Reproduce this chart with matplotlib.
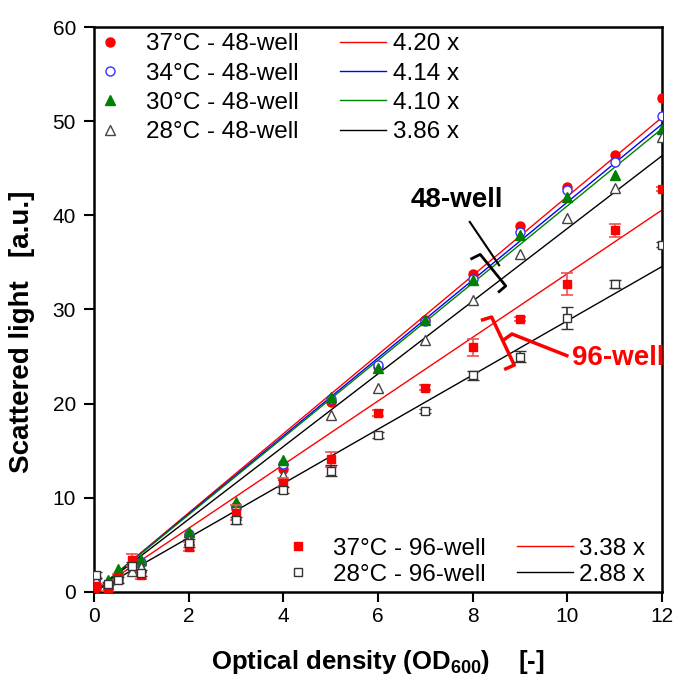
import numpy as np
import matplotlib.pyplot as plt

plt.rcParams["font.family"] = ["Liberation Sans", "DejaVu Sans"]
plt.rcParams["mathtext.fontset"] = "custom"
plt.rcParams["mathtext.bf"] = "Liberation Sans:bold"
plt.rcParams["mathtext.rm"] = "Liberation Sans"

# optical density (x) values
od = [0.05, 0.3, 0.5, 0.8, 1, 2, 3, 4, 5, 6, 7, 8, 9, 10, 11, 12]

# 48-well plate
w48_37 = [0.4, 0.6, 1.6, 2.9, 3.1, 6.0, 8.9, 13.1, 20.2, 23.9, 28.9, 33.8, 38.9, 43.0, 46.4, 52.5]
w48_34 = [1.5, 0.8, 1.8, 3.0, 3.2, 6.2, 9.1, 13.6, 20.5, 24.1, 28.8, 33.2, 38.2, 42.7, 45.7, 50.6]
w48_30 = [1.0, 1.3, 2.4, 3.2, 3.4, 6.4, 9.6, 14.0, 20.7, 23.8, 28.9, 33.1, 37.9, 41.9, 44.3, 49.2]
w48_28 = [1.3, 0.8, 1.5, 2.2, 2.7, 5.5, 8.2, 12.4, 18.8, 21.7, 26.8, 31.0, 35.9, 39.7, 42.9, 48.3]

# 96-well plate with standard deviations
w96_37 = [0.6, 0.4, 1.6, 3.4, 1.8, 4.8, 8.4, 11.6, 14.1, 19.0, 21.7, 26.0, 29.0, 32.7, 38.4, 42.8]
w96_37_err = [0.3, 0.3, 0.3, 0.6, 0.4, 0.5, 0.8, 0.5, 0.8, 0.3, 0.3, 0.9, 0.2, 1.2, 0.7, 0.2]
w96_28 = [1.8, 0.9, 1.3, 2.8, 2.0, 5.2, 7.6, 10.8, 12.9, 16.7, 19.2, 23.0, 25.0, 29.1, 32.7, 36.9]
w96_28_err = [0.3, 0.2, 0.3, 0.4, 0.3, 0.4, 0.4, 0.3, 0.6, 0.3, 0.2, 0.5, 0.6, 1.2, 0.4, 0.3]

# linear fits through origin
slopes_48 = [4.20, 4.14, 4.10, 3.86]
slopes_96 = [3.38, 2.88]
labels_48 = ["37°C - 48-well", "34°C - 48-well", "30°C - 48-well", "28°C - 48-well"]
labels_96 = ["37°C - 96-well", "28°C - 96-well"]

fig = plt.figure(figsize=(6.77, 6.82), dpi=100)
ax = fig.add_axes([0.1388, 0.132, 0.839, 0.8284])

xfit = np.array([0, 12])
colors_48 = ["red", "blue", "green", "black"]
fit48 = []
for s, c in zip(slopes_48, colors_48):
    ln, = ax.plot(xfit, s * xfit, color=c, lw=1.0, zorder=2)
    fit48.append(ln)
fit96 = []
for s, c in zip(slopes_96, ["red", "black"]):
    ln, = ax.plot(xfit, s * xfit, color=c, lw=1.0, zorder=2)
    fit96.append(ln)

# 48-well points
m1, = ax.plot(od, w48_37, "o", color="red", ms=6.5, ls="none", zorder=4)
m2, = ax.plot(od, w48_34, "o", mfc="white", mec="#3333ff", mew=1.0, ms=6.5, ls="none", zorder=4)
m3, = ax.plot(od, w48_30, "^", color="green", ms=7, ls="none", zorder=4)
m4, = ax.plot(od, w48_28, "^", mfc="white", mec="#444444", mew=1.0, ms=7, ls="none", zorder=4)

# 96-well points
e1 = ax.errorbar(od, w96_37, yerr=w96_37_err, fmt="s", color="red", ecolor="#f05050",
                 ms=6, capsize=4, elinewidth=1.2, capthick=1.2, zorder=4)
e2 = ax.errorbar(od, w96_28, yerr=w96_28_err, fmt="s", mfc="white", mec="#333333", mew=1.0,
                 ecolor="#333333", ms=6, capsize=4, elinewidth=1.2, capthick=1.2, zorder=4)

# legends
leg_kw = dict(frameon=False, fontsize=17.5, borderpad=0, borderaxespad=0)
leg1 = ax.legend([m1, m2, m3, m4], labels_48, loc="upper left", bbox_to_anchor=(0.0074, 0.989),
                 handlelength=1.0, handletextpad=0.95, labelspacing=0.3, **leg_kw)
ax.add_artist(leg1)
leg2 = ax.legend(fit48, [f"{s:.2f} x" for s in slopes_48], loc="upper left",
                 bbox_to_anchor=(0.433, 0.989), handlelength=1.9, handletextpad=0.3,
                 labelspacing=0.3, **leg_kw)
ax.add_artist(leg2)
leg3 = ax.legend([e1[0], e2[0]], labels_96, loc="lower left", bbox_to_anchor=(0.337, 0.011),
                 handlelength=1.0, handletextpad=0.95, labelspacing=0.17, **leg_kw)
ax.add_artist(leg3)
ax.legend(fit96, [f"{s:.2f} x" for s in slopes_96], loc="lower left",
          bbox_to_anchor=(0.745, 0.011), handlelength=2.3, handletextpad=0.25,
          labelspacing=0.17, **leg_kw)

# brackets with labels
ax.text(6.68, 41.6, "48-well", fontsize=20, fontweight="bold", va="center")
ax.plot([7.94, 8.56], [39.3, 34.7], color="black", lw=1.5)
ax.plot([7.98, 8.16, 8.70, 8.56], [35.4, 35.85, 32.5, 31.9], color="black", lw=2)
ax.text(10.1, 24.8, "96-well", fontsize=20, fontweight="bold", color="red", va="center")
ax.plot([8.21, 8.40, 8.88, 8.70], [28.9, 29.2, 24.1, 23.7], color="red", lw=2.5)
ax.plot([8.65, 8.83, 9.99], [26.75, 27.4, 25.1], color="red", lw=2.5)

ax.set_xlim(0, 12)
ax.set_ylim(0, 60)
ax.set_xticks(range(0, 13, 2))
ax.set_yticks(range(0, 61, 10))
ax.tick_params(direction="out", length=7, width=1.5, labelsize=15, top=False, right=False)
ax.tick_params(axis="x", pad=4)
ax.tick_params(axis="y", pad=6)
for sp in ax.spines.values():
    sp.set_linewidth(1.8)

ax.set_xlabel(r"Optical density (O$\mathbf{D_{600}}$)    [-]", fontsize=18.5, fontweight="bold", labelpad=16)
ax.set_ylabel("Scattered light   [a.u.]", fontsize=20, fontweight="bold")
ax.yaxis.set_label_coords(-0.104, 0.46)

fig.savefig("out.png", dpi=100)
